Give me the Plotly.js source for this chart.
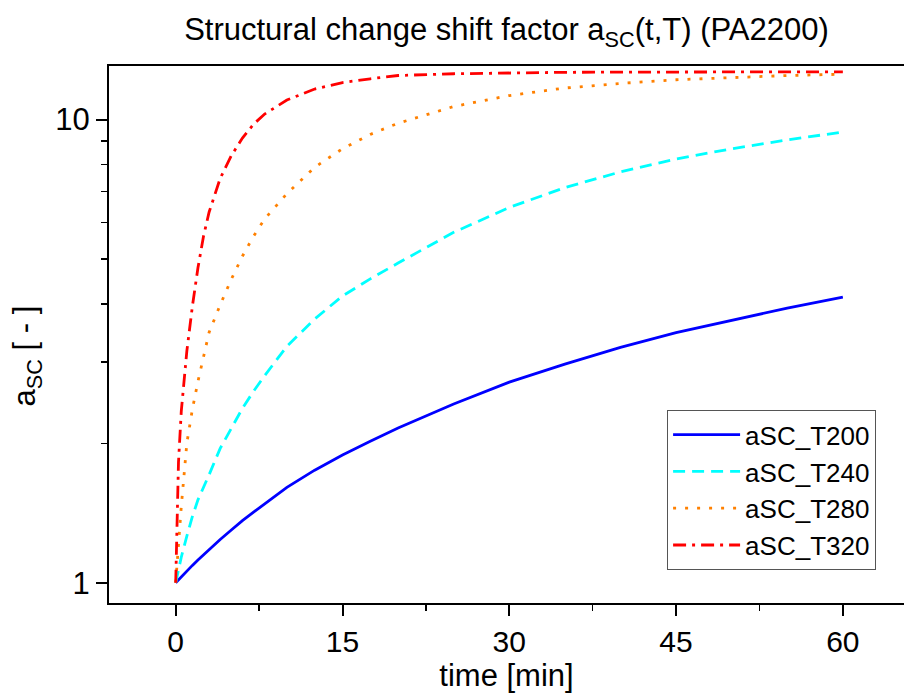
<!DOCTYPE html>
<html>
<head>
<meta charset="utf-8">
<script src="https://cdn.plot.ly/plotly-3.0.1.min.js"></script>
<style>html,body{margin:0;padding:0;background:#fff;}#chart{width:904px;height:694px;}</style>
</head>
<body>
<div id="chart"></div>
<script>
// time [min]
const time = [0, 0.25, 0.5, 1, 1.5, 2, 2.5, 3, 4, 5, 6, 7, 8, 10, 12.5, 15, 17.5, 20, 25, 30, 35, 40, 45, 50, 55, 60];
// shift factor values
const aSC_T200 = [1.000, 1.015, 1.030, 1.062, 1.090, 1.120, 1.150, 1.180, 1.240, 1.300, 1.362, 1.420, 1.480, 1.607, 1.750, 1.886, 2.020, 2.158, 2.432, 2.710, 2.965, 3.221, 3.467, 3.690, 3.917, 4.136];
const aSC_T240 = [1.000, 1.070, 1.135, 1.260, 1.390, 1.510, 1.600, 1.710, 1.950, 2.160, 2.380, 2.590, 2.800, 3.240, 3.710, 4.160, 4.530, 4.900, 5.710, 6.460, 7.130, 7.710, 8.220, 8.650, 9.040, 9.400];
const aSC_T280 = [1.000, 1.230, 1.460, 2.000, 2.370, 2.720, 3.100, 3.470, 3.980, 4.520, 5.070, 5.600, 6.100, 6.920, 7.890, 8.650, 9.290, 9.820, 10.67, 11.27, 11.70, 11.97, 12.19, 12.33, 12.45, 12.53];
const aSC_T320 = [1.000, 1.820, 2.344, 3.162, 3.954, 4.786, 5.598, 6.310, 7.464, 8.356, 9.120, 9.772, 10.28, 11.02, 11.64, 12.02, 12.25, 12.45, 12.56, 12.62, 12.65, 12.66, 12.68, 12.68, 12.68, 12.68];

const seriesNames = ["aSC_T200", "aSC_T240", "aSC_T280", "aSC_T320"];
const xTickVals = [0, 15, 30, 45, 60];
const xMinorVals = [7.5, 22.5, 37.5, 52.5];
const yTickVals = [1, 10];
const yTickText = ["1", "10"];
const yMinorVals = [2, 3, 4, 5, 6, 7, 8, 9];

const FONT = "Liberation Sans, Arial, sans-serif";

const traces = [
  {x: time, y: aSC_T200, name: seriesNames[0], mode: "lines", line: {color: "#0000FF", width: 2.8}},
  {x: time, y: aSC_T240, name: seriesNames[1], mode: "lines", line: {color: "#00FFFF", width: 2.8, dash: "12px,7px"}},
  {x: time, y: aSC_T280, name: seriesNames[2], mode: "lines", line: {color: "#FF8000", width: 2.8, dash: "3px,9px"}},
  {x: time, y: aSC_T320, name: seriesNames[3], mode: "lines", line: {color: "#FF0000", width: 2.8, dash: "13px,6px,3px,6px"}}
];

const layout = {
  width: 904, height: 694,
  margin: {l: 109, r: 0, t: 66, b: 91},
  paper_bgcolor: "#fff", plot_bgcolor: "#fff",
  font: {family: FONT, color: "#000"},
  showlegend: true,
  title: {
    text: "Structural change shift factor a<sub>SC</sub>(t,T) (PA2200)",
    font: {family: FONT, size: 31, color: "#000"},
    x: 0.5, xref: "paper", xanchor: "center",
    y: 0.958, yref: "container", yanchor: "middle"
  },
  xaxis: {
    range: [-6, 65.5],
    tickmode: "array", tickvals: xTickVals,
    ticks: "outside", ticklen: 11, tickwidth: 2, tickcolor: "#000",
    minor: {tickmode: "array", tickvals: xMinorVals, ticks: "outside", ticklen: 6, tickwidth: 1.5, tickcolor: "#000", showgrid: false},
    showline: true, linecolor: "#000", linewidth: 2, mirror: true,
    showgrid: false, zeroline: false,
    tickfont: {family: FONT, size: 30, color: "#000"},
    title: {text: "time [min]", font: {family: FONT, size: 31, color: "#000"}, standoff: 3}
  },
  xaxis2: {
    overlaying: "x", side: "top", anchor: "y",
    range: [-6, 65.5],
    tickmode: "array", tickvals: [0, 7.5, 15, 22.5, 30, 37.5, 45, 52.5, 60],
    ticks: "inside", ticklen: 3, tickwidth: 1, tickcolor: "#888",
    showticklabels: false, showline: false, showgrid: false, zeroline: false
  },
  yaxis: {
    type: "log",
    range: [-0.0438, 1.1157],
    tickmode: "array", tickvals: yTickVals, ticktext: yTickText,
    ticks: "outside", ticklen: 11, tickwidth: 2, tickcolor: "#000",
    minor: {tickmode: "array", tickvals: yMinorVals, ticks: "outside", ticklen: 6, tickwidth: 1.5, tickcolor: "#000", showgrid: false},
    showline: true, linecolor: "#000", linewidth: 2, mirror: false,
    showgrid: false, zeroline: false,
    tickfont: {family: FONT, size: 31, color: "#000"},
    title: {text: "a<sub>SC</sub> [ - ]<span style=\"color:rgba(0,0,0,0)\">mn</span>", font: {family: FONT, size: 31, color: "#000"}, standoff: 10}
  },
  legend: {
    x: 0.702, y: 0.359, xanchor: "left", yanchor: "top",
    bgcolor: "#fff", bordercolor: "#555", borderwidth: 1,
    font: {family: FONT, size: 26, color: "#000"},
    itemwidth: 67, tracegroupgap: 0
  }
};

Plotly.newPlot("chart", traces, layout, {displayModeBar: false, staticPlot: true});
</script>
</body>
</html>
